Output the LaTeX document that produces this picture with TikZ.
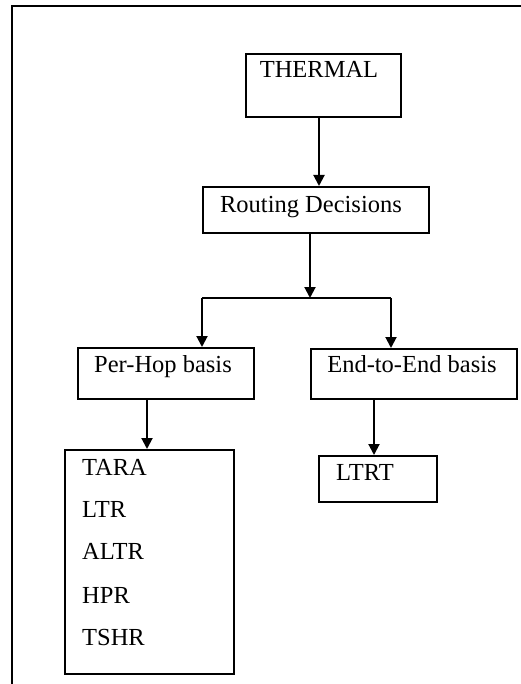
\documentclass[tikz,border=0pt]{standalone}
\usepackage{fontspec}
\setmainfont{Liberation Serif}
\usetikzlibrary{arrows.meta}
\begin{document}
\begin{tikzpicture}[x=1pt,y=-1pt,
  box/.style={draw,line width=1.8pt,inner sep=0pt,anchor=north west},
  txt/.style={font=\fontsize{24.5}{28}\selectfont,inner sep=0pt},
  arr/.style={line width=2pt,-{Triangle[width=11pt,length=11pt]}},
  ln/.style={line width=2pt}]
\useasboundingbox (0,0) rectangle (521,684);
% outer frame
\draw[line width=2.4pt] (12,684) -- (12,6) -- (521,6);
% boxes
\node[box,minimum width=155pt,minimum height=63pt] (thermal) at (245,53) {};
\node[box,minimum width=226pt,minimum height=46pt] (routing) at (202,186) {};
\node[box,minimum width=176pt,minimum height=51pt] (perhop) at (77,347) {};
\node[box,minimum width=206pt,minimum height=50pt] (endtoend) at (310,348) {};
\node[box,minimum width=169pt,minimum height=224pt] (list) at (64,449) {};
\node[box,minimum width=118pt,minimum height=46pt] (ltrt) at (318,455) {};
% texts
\node[txt,anchor=base] (tthermal) at (319,78) {THERMAL};
\node[txt,anchor=base] (trouting) at (311,213) {Routing Decisions};
\node[txt,anchor=base] (tperhop) at (163,372) {Per-Hop basis};
\node[txt,anchor=base] (tend) at (412,372) {End-to-End basis};
\node[txt,anchor=base west] (t1) at (82,475) {TARA};
\node[txt,anchor=base west] (t2) at (82,517) {LTR};
\node[txt,anchor=base west] (t3) at (82,559) {ALTR};
\node[txt,anchor=base west] (t4) at (82,603) {HPR};
\node[txt,anchor=base west] (t5) at (82,645) {TSHR};
\node[txt,anchor=base west] (t6) at (336,480) {LTRT};
% connectors
\coordinate (c1) at (319,0);
\draw[arr] (thermal.south -| c1) -- (routing.north -| c1);
\coordinate (j) at (310,298);
\coordinate (jl) at (202,298);
\coordinate (jr) at (391,298);
\draw[arr] (routing.south -| j) -- (j);
\draw[ln] (jl) -- (jr);
\draw[arr] (jl) -- (perhop.north -| jl);
\draw[arr] (jr) -- (endtoend.north -| jr);
\coordinate (c2) at (147,0);
\draw[arr] (perhop.south -| c2) -- (list.north -| c2);
\coordinate (c3) at (374,0);
\draw[arr] (endtoend.south -| c3) -- (ltrt.north -| c3);
\end{tikzpicture}
\end{document}
